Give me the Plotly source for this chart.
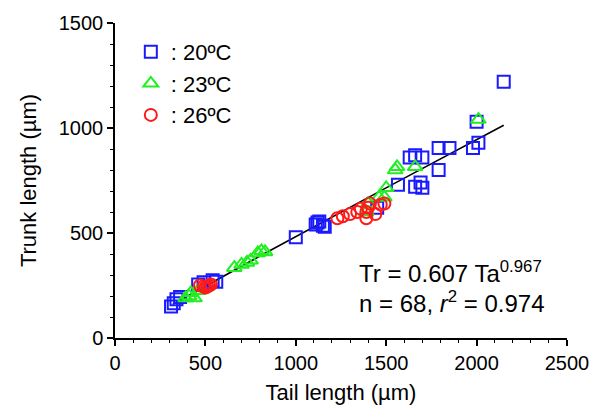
import plotly.graph_objects as go
import numpy as np

# Tail length (x, µm) and trunk length (y, µm) for each temperature
tail_20 = [310, 325, 340, 360, 460, 490, 540, 560,
           1000, 1110, 1120, 1130, 1150, 1160,
           1450, 1565, 1630, 1660, 1700, 1660, 1700, 1690, 1790, 1790, 1850, 1980, 2010, 2000, 2150]
trunk_20 = [150, 165, 185, 195, 255, 265, 275, 268,
            480, 540, 550, 555, 535, 530,
            620, 730, 860, 870, 860, 720, 715, 740, 800, 905, 905, 905, 930, 1030, 1220]

tail_23 = [390, 410, 420, 440, 460,
           660, 700, 730, 750, 790, 810, 830,
           1390, 1400, 1460, 1490, 1500, 1550, 1560, 1660, 2010]
trunk_23 = [190, 200, 215, 190, 225,
            335, 350, 360, 370, 405, 415, 410,
            600, 640, 670, 670, 715, 800, 815, 815, 1040]

tail_26 = [470, 490, 500, 510, 520, 530,
           1230, 1260, 1300, 1340, 1360, 1390, 1400, 1410, 1470, 1490, 1390, 1440]
trunk_26 = [250, 245, 240, 245, 250, 255,
            570, 580, 590, 600, 615, 570, 620, 640, 635, 640, 600, 590]

fit_a = 0.607
fit_b = 0.967
fit_range = [320, 2150]

x_ticks = [0, 500, 1000, 1500, 2000, 2500]
y_ticks = [0, 500, 1000, 1500]

FONT = "Liberation Sans, Arial, sans-serif"

fig = go.Figure()

fx = np.linspace(fit_range[0], fit_range[1], 100)
fy = fit_a * fx ** fit_b
fig.add_trace(go.Scatter(x=fx, y=fy, mode="lines", line=dict(color="black", width=1.6),
                         showlegend=False, hoverinfo="skip"))

fig.add_trace(go.Scatter(x=tail_20, y=trunk_20, mode="markers", name=": 20ºC",
                         marker=dict(symbol="square-open", size=12, color="#1a1aff",
                                     line=dict(width=2, color="#1a1aff"))))
fig.add_trace(go.Scatter(x=tail_23, y=trunk_23, mode="markers", name=": 23ºC",
                         marker=dict(symbol="triangle-up-open", size=13, color="#22ee22",
                                     line=dict(width=2, color="#22ee22"))))
fig.add_trace(go.Scatter(x=tail_26, y=trunk_26, mode="markers", name=": 26ºC",
                         marker=dict(symbol="circle-open", size=12, color="#ff1a1a",
                                     line=dict(width=2, color="#ff1a1a"))))

axis_common = dict(
    showgrid=False, zeroline=False, showline=True, linecolor="black", linewidth=1.5,
    ticks="outside", ticklen=6, tickwidth=1.5, tickcolor="black", automargin=False,
    tickfont=dict(family=FONT, size=20, color="black"),
    minor=dict(dtick=100, ticks="outside", ticklen=3, tickwidth=1.2, tickcolor="black"),
)

fig.update_xaxes(range=[0, 2500], tickvals=x_ticks, ticktext=[str(v) for v in x_ticks],
                 title=dict(text="Tail length (µm)", font=dict(family=FONT, size=22, color="black"), standoff=12),
                 **axis_common)
fig.update_yaxes(range=[0, 1500], tickvals=y_ticks, ticktext=[str(v) for v in y_ticks],
                 title=dict(text="Trunk length (µm)", font=dict(family=FONT, size=22, color="black"), standoff=16),
                 **axis_common)

fig.add_annotation(x=0.535, y=0.21, xref="paper", yref="paper", xanchor="left", yanchor="middle",
                   text="Tr = 0.607 Ta<sup>0.967</sup>", showarrow=False,
                   font=dict(family=FONT, size=24, color="black"))
fig.add_annotation(x=0.535, y=0.115, xref="paper", yref="paper", xanchor="left", yanchor="middle",
                   text="n = 68, <i>r</i><sup>2</sup> = 0.974", showarrow=False,
                   font=dict(family=FONT, size=24, color="black"))

# page body adds an 8px offset; margins compensate so the plot area sits where the reference has it
fig.update_layout(
    width=600, height=410,
    margin=dict(l=107, r=41, t=15, b=80),
    plot_bgcolor="white", paper_bgcolor="white",
    legend=dict(x=0.035, y=0.975, xanchor="left", yanchor="top",
                font=dict(family=FONT, size=22, color="black"),
                bgcolor="rgba(0,0,0,0)", itemwidth=30, tracegroupgap=0),
)

fig.write_html("out.html")
